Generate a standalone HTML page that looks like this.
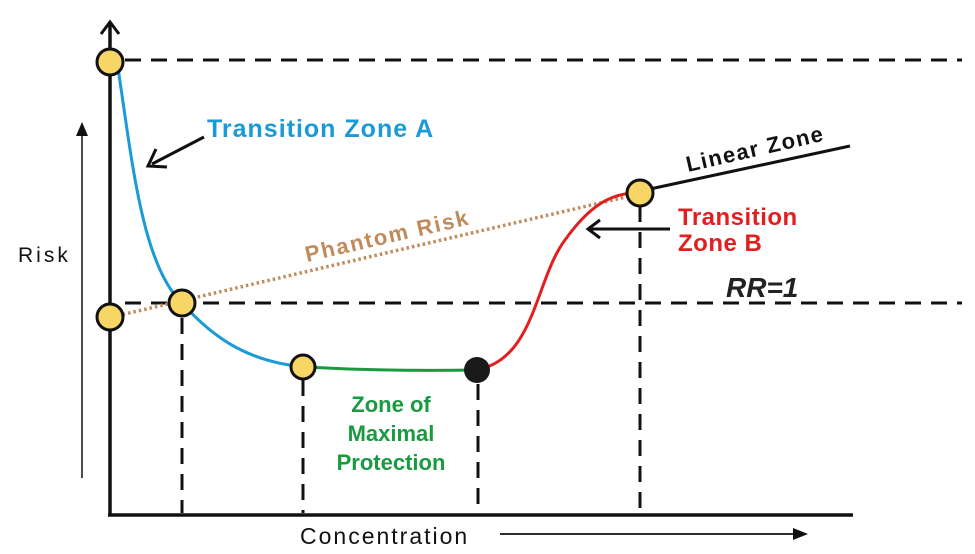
<!DOCTYPE html>
<html><head><style>body{margin:0;background:#fff}svg{display:block}</style></head><body>
<svg width="975" height="554" viewBox="0 0 975 554" xmlns="http://www.w3.org/2000/svg" font-family="Liberation Sans, sans-serif" font-weight="bold">
<g stroke="#111" stroke-width="3" stroke-dasharray="16,10" fill="none">
<line x1="125" y1="60" x2="962" y2="60"/>
<line x1="125" y1="303" x2="962" y2="303"/>
<line x1="182" y1="318" x2="182" y2="513"/>
<line x1="303" y1="380" x2="303" y2="513"/>
<line x1="478" y1="384" x2="478" y2="513"/>
<line x1="640" y1="206" x2="640" y2="513"/>
</g>
<line x1="110" y1="22" x2="110" y2="516" stroke="#111" stroke-width="3.5"/>
<polyline points="101,34 110,22 119,34" fill="none" stroke="#111" stroke-width="3"/>
<line x1="108" y1="515" x2="853" y2="515" stroke="#111" stroke-width="3.5"/>
<line x1="82" y1="124" x2="82" y2="478" stroke="#111" stroke-width="1.5"/>
<polygon points="76,136 82,122 88,136" fill="#111"/>
<line x1="500" y1="534" x2="800" y2="534" stroke="#111" stroke-width="1.8"/>
<polygon points="793,528 808,534 793,540" fill="#111"/>
<line x1="112" y1="317" x2="630" y2="196" stroke="#c08a5a" stroke-width="3.5" stroke-dasharray="2.5,3"/>
<path d="M118,68 C132,160 142,265 182,303 C215,340 250,362 305,367" fill="none" stroke="#1a9ad6" stroke-width="3"/>
<path d="M305,367 C360,370 420,371 476,370" fill="none" stroke="#1a9a40" stroke-width="3"/>
<path d="M476,370 C535,360 535,280 565,240 C590,205 610,195 632,193" fill="none" stroke="#e02020" stroke-width="3"/>
<line x1="650" y1="189" x2="850" y2="146" stroke="#111" stroke-width="3"/>
<line x1="204" y1="137" x2="152" y2="164" stroke="#111" stroke-width="3"/>
<polyline points="156,149 148,166 167,167" fill="none" stroke="#111" stroke-width="3"/>
<line x1="670" y1="229" x2="588" y2="229" stroke="#111" stroke-width="3"/>
<polyline points="600,220 588,229 600,238" fill="none" stroke="#111" stroke-width="3"/>
<g stroke="#111" stroke-width="3" fill="#f7d665">
<circle cx="110" cy="62" r="13"/>
<circle cx="110" cy="317" r="13"/>
<circle cx="182" cy="303" r="13"/>
<circle cx="303" cy="367" r="12"/>
<circle cx="640" cy="193" r="13"/>
</g>
<circle cx="477" cy="370" r="13" fill="#1a1a1a"/>
<text x="207" y="137" fill="#1a9ad6" font-size="25" letter-spacing="1">Transition Zone A</text>
<text x="307" y="262" fill="#c08a5a" font-size="22" letter-spacing="1.8" transform="rotate(-13 307 262)">Phantom Risk</text>
<text x="688" y="172" fill="#111" font-size="22" letter-spacing="1.5" transform="rotate(-13 688 172)">Linear Zone</text>
<text x="678" y="225" fill="#e02020" font-size="24" letter-spacing="0.5">Transition</text>
<text x="678" y="251" fill="#e02020" font-size="24" letter-spacing="0.5">Zone B</text>
<text x="726" y="297" fill="#222" font-size="28" font-style="italic">RR=1</text>
<g fill="#1a9a40" font-size="22" text-anchor="middle">
<text x="391" y="412">Zone of</text>
<text x="391" y="441">Maximal</text>
<text x="391" y="470">Protection</text>
</g>
<text x="18" y="262" fill="#111" font-size="21" font-weight="normal" letter-spacing="3">Risk</text>
<text x="300" y="544" fill="#111" font-size="23" font-weight="normal" letter-spacing="2">Concentration</text>
</svg>
</body></html>
